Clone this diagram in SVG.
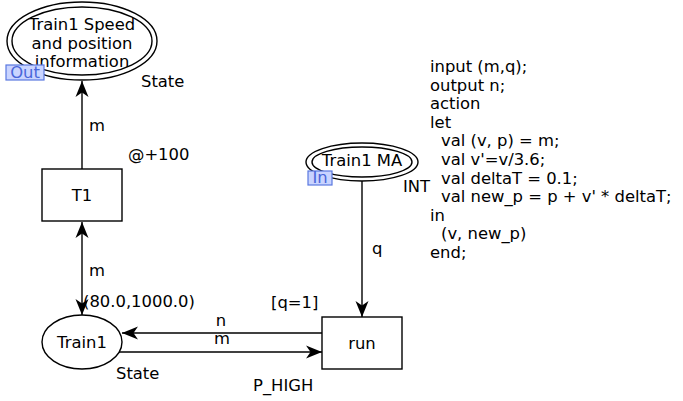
<svg xmlns="http://www.w3.org/2000/svg" width="683" height="401" viewBox="0 0 683 401">
<style>
text{font-family:"DejaVu Sans",Verdana,sans-serif;font-size:16.4px;fill:#000}
.c{text-anchor:middle}
.shape{fill:#fff;stroke:#000;stroke-width:1.4}
.arc{fill:none;stroke:#000;stroke-width:1.4}
.tagbox{fill:#c9d4ff;stroke:#5a78e0;stroke-width:1.2}
.tag{fill:#4a66d9}
</style>
<defs>
<marker id="ah" viewBox="-18 -8 19 16" refX="0" refY="0" markerWidth="19" markerHeight="16" markerUnits="userSpaceOnUse" orient="auto-start-reverse">
<path d="M0,0 L-16,-6.5 L-11.5,0 L-16,6.5 Z" fill="#000"/>
</marker>
</defs>
<g id="connectors">
<line class="arc" x1="82" y1="169" x2="82" y2="81" marker-end="url(#ah)"/>
<line class="arc" x1="82" y1="222" x2="82" y2="315" marker-start="url(#ah)" marker-end="url(#ah)"/>
<line class="arc" x1="362" y1="181" x2="362" y2="317" marker-end="url(#ah)"/>
<line class="arc" x1="322" y1="333" x2="122" y2="333" marker-end="url(#ah)"/>
<line class="arc" x1="119" y1="352" x2="322" y2="352" marker-end="url(#ah)"/>
<text x="89" y="131">m</text>
<text x="128" y="160">@+100</text>
<text x="89" y="276">m</text>
<text x="372" y="254">q</text>
<text x="221" y="326" class="c">n</text>
<text x="222" y="344" class="c">m</text>
<text x="271" y="308">[q=1]</text>
<text x="253" y="391">P_HIGH</text>
</g>
<g id="place-speed">
<ellipse class="shape" cx="82" cy="41" rx="75" ry="39"/>
<ellipse class="shape" cx="82" cy="41" rx="70" ry="34"/>
<text x="82" y="30" class="c">Train1 Speed</text>
<text x="82" y="49" class="c">and position</text>
<text x="82" y="67" class="c">information</text>
<rect class="tagbox" x="6" y="65" width="38" height="15"/>
<text x="25" y="78" class="c tag">Out</text>
<text x="141" y="87">State</text>
</g>
<g id="trans-T1">
<rect class="shape" x="42" y="169" width="80" height="52"/>
<text x="82" y="201" class="c">T1</text>
</g>
<g id="place-train1">
<ellipse class="shape" cx="82" cy="342" rx="40" ry="27"/>
<text x="82" y="348" class="c">Train1</text>
<text x="83" y="307">(80.0,1000.0)</text>
<text x="116" y="379">State</text>
</g>
<g id="place-ma">
<ellipse class="shape" cx="362" cy="162" rx="56" ry="19"/>
<ellipse class="shape" cx="362" cy="162" rx="50" ry="15"/>
<text x="362" y="166" class="c">Train1 MA</text>
<rect class="tagbox" x="308" y="171" width="24" height="14"/>
<text x="320" y="183" class="c tag">In</text>
<text x="403" y="192">INT</text>
</g>
<g id="trans-run">
<rect class="shape" x="322" y="317" width="80" height="52"/>
<text x="362" y="349" class="c">run</text>
<text x="430" y="72">input (m,q);</text>
<text x="430" y="90.6">output n;</text>
<text x="430" y="109.2">action</text>
<text x="430" y="127.8">let</text>
<text x="441" y="146.4">val (v, p) = m;</text>
<text x="441" y="165">val v'=v/3.6;</text>
<text x="441" y="183.6">val deltaT = 0.1;</text>
<text x="441" y="202.2">val new_p = p + v' * deltaT;</text>
<text x="430" y="220.8">in</text>
<text x="441" y="239.4">(v, new_p)</text>
<text x="430" y="258">end;</text>
</g>
</svg>
